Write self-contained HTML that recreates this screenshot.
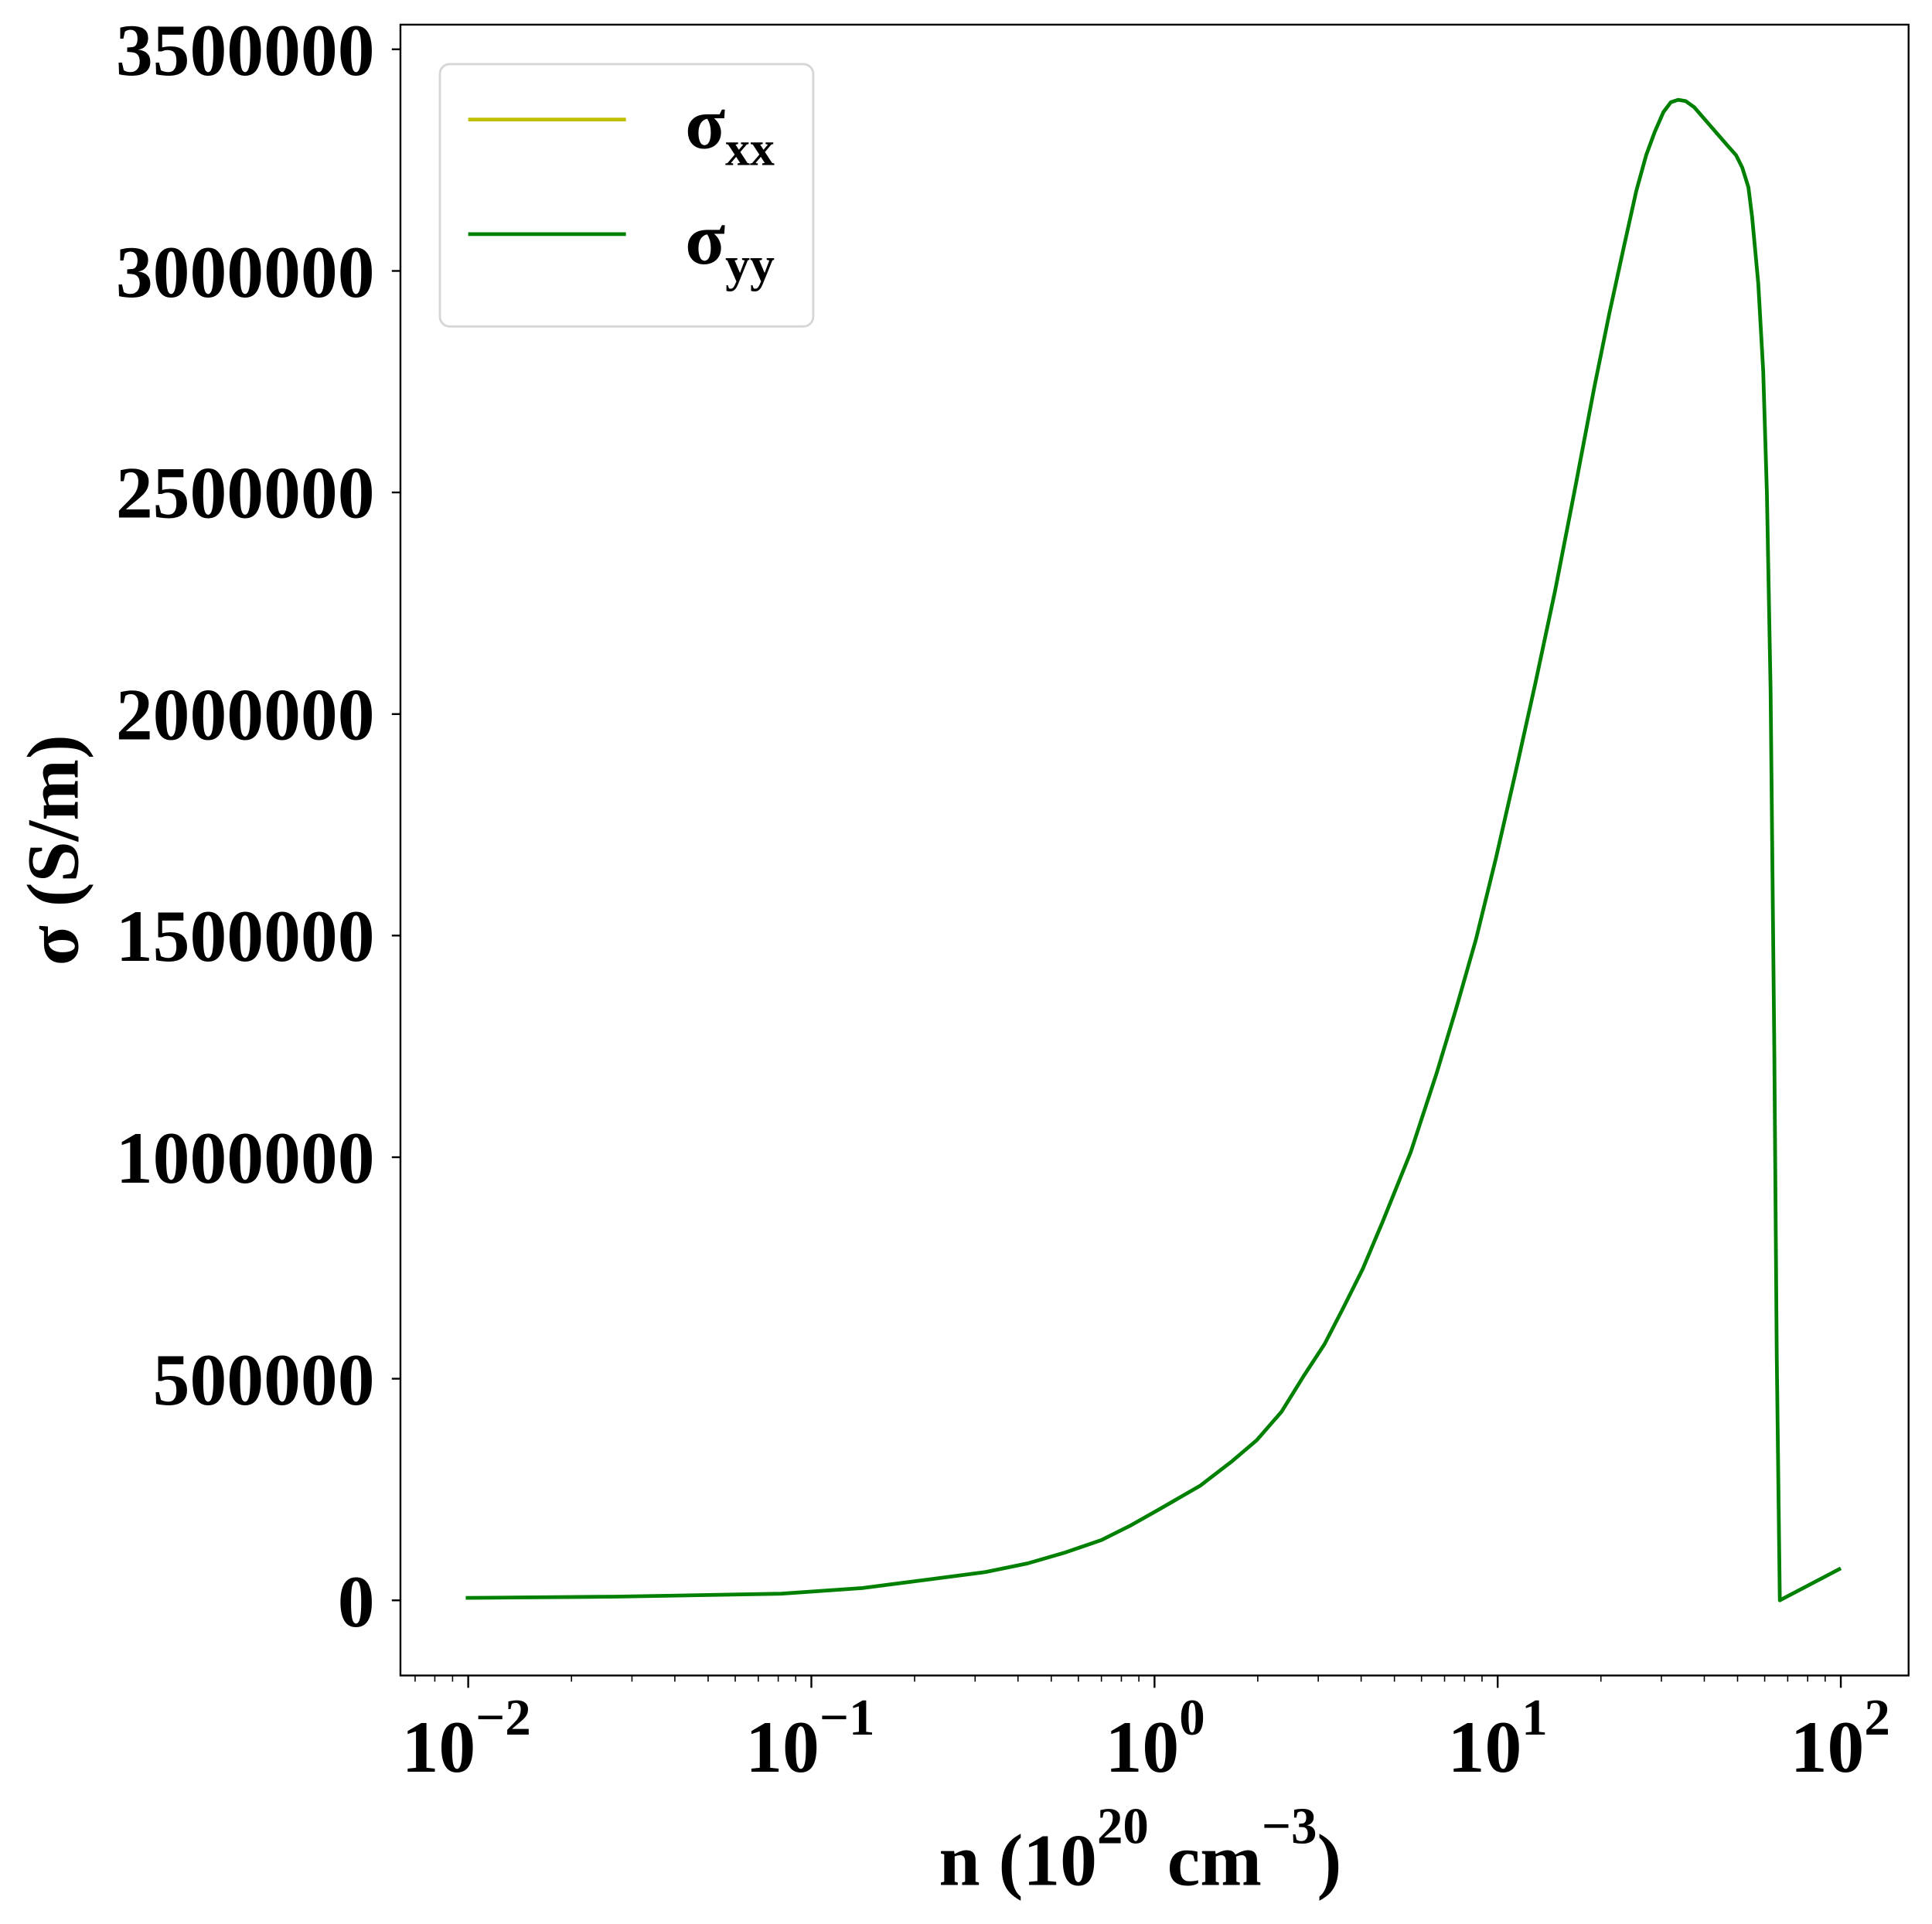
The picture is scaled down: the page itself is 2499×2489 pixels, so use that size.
<!DOCTYPE html>
<html><head><meta charset="utf-8"><style>
html,body{margin:0;padding:0;background:#fff;}
svg{display:block;}
</style></head><body>
<svg width="2499" height="2489" viewBox="0 0 1568 1561.7" xmlns="http://www.w3.org/2000/svg" font-family="'Liberation Serif', 'Times New Roman', Times, serif" font-weight="bold" style="font-family:'Liberation Serif','Times New Roman',Times,serif;font-weight:bold">
<rect x="0" y="0" width="1568" height="1562" fill="#fff"/>
<path d="M378,1297 L500,1296 L634,1293.6 L700,1289 L754,1282 L800,1276 L834,1269 L865,1260 L894,1250 L918,1238 L941,1225 L974,1206 L1000,1186 L1020,1169 L1040,1146 L1058,1117 L1075,1091 L1090,1062 L1106,1030 L1122,992 L1145,935 L1166,871 L1182,818 L1198,762 L1214,697 L1230,627 L1246,555 L1262,480 L1278,398 L1294,314 L1306,255 L1318,200 L1328,155 L1336,126 L1343,107 L1350,91 L1356,83 L1362,81 L1368,82 L1375,87 L1388,102 L1401,117 L1409,126 L1414,136 L1419,152 L1422,176 L1427,230 L1431,301 L1434,400 L1437,560 L1440,850 L1442,1100 L1444.5,1299 L1494,1273" fill="none" stroke="#008000" stroke-width="3" stroke-linejoin="round"/>
<rect x="325" y="20" width="1224" height="1340" fill="none" stroke="#000" stroke-width="1.5"/>
<g stroke="#000" stroke-width="1.5">
<line x1="318" y1="1299" x2="325" y2="1299"/>
<line x1="318" y1="1119.1" x2="325" y2="1119.1"/>
<line x1="318" y1="939.3" x2="325" y2="939.3"/>
<line x1="318" y1="759.4" x2="325" y2="759.4"/>
<line x1="318" y1="579.6" x2="325" y2="579.6"/>
<line x1="318" y1="399.7" x2="325" y2="399.7"/>
<line x1="318" y1="219.9" x2="325" y2="219.9"/>
<line x1="318" y1="40" x2="325" y2="40"/>
</g>
<g font-size="60" text-anchor="end">
<text x="304" y="1320">0</text>
<text x="304" y="1140">500000</text>
<text x="304" y="960">1000000</text>
<text x="304" y="780">1500000</text>
<text x="304" y="600">2000000</text>
<text x="304" y="420">2500000</text>
<text x="304" y="241">3000000</text>
<text x="304" y="61">3500000</text>
</g>
<g stroke="#000" stroke-width="1.5">
<line x1="380" y1="1360" x2="380" y2="1370"/>
<line x1="658.5" y1="1360" x2="658.5" y2="1370"/>
<line x1="937" y1="1360" x2="937" y2="1370"/>
<line x1="1215.5" y1="1360" x2="1215.5" y2="1370"/>
<line x1="1494" y1="1360" x2="1494" y2="1370"/>
</g>
<g stroke="#000" stroke-width="1">
<line x1="336.9" y1="1360" x2="336.9" y2="1365"/>
<line x1="352.9" y1="1360" x2="352.9" y2="1365"/>
<line x1="367.3" y1="1360" x2="367.3" y2="1365"/>
<line x1="463.8" y1="1360" x2="463.8" y2="1365"/><line x1="512.9" y1="1360" x2="512.9" y2="1365"/><line x1="547.7" y1="1360" x2="547.7" y2="1365"/><line x1="574.7" y1="1360" x2="574.7" y2="1365"/><line x1="596.7" y1="1360" x2="596.7" y2="1365"/><line x1="615.4" y1="1360" x2="615.4" y2="1365"/><line x1="631.6" y1="1360" x2="631.6" y2="1365"/><line x1="645.8" y1="1360" x2="645.8" y2="1365"/>
<line x1="742.3" y1="1360" x2="742.3" y2="1365"/><line x1="791.4" y1="1360" x2="791.4" y2="1365"/><line x1="826.2" y1="1360" x2="826.2" y2="1365"/><line x1="853.2" y1="1360" x2="853.2" y2="1365"/><line x1="875.2" y1="1360" x2="875.2" y2="1365"/><line x1="893.9" y1="1360" x2="893.9" y2="1365"/><line x1="910.1" y1="1360" x2="910.1" y2="1365"/><line x1="924.3" y1="1360" x2="924.3" y2="1365"/>
<line x1="1020.8" y1="1360" x2="1020.8" y2="1365"/><line x1="1069.9" y1="1360" x2="1069.9" y2="1365"/><line x1="1104.7" y1="1360" x2="1104.7" y2="1365"/><line x1="1131.7" y1="1360" x2="1131.7" y2="1365"/><line x1="1153.7" y1="1360" x2="1153.7" y2="1365"/><line x1="1172.4" y1="1360" x2="1172.4" y2="1365"/><line x1="1188.6" y1="1360" x2="1188.6" y2="1365"/><line x1="1202.8" y1="1360" x2="1202.8" y2="1365"/>
<line x1="1299.3" y1="1360" x2="1299.3" y2="1365"/><line x1="1348.4" y1="1360" x2="1348.4" y2="1365"/><line x1="1383.2" y1="1360" x2="1383.2" y2="1365"/><line x1="1410.2" y1="1360" x2="1410.2" y2="1365"/><line x1="1432.2" y1="1360" x2="1432.2" y2="1365"/><line x1="1450.9" y1="1360" x2="1450.9" y2="1365"/><line x1="1467.1" y1="1360" x2="1467.1" y2="1365"/><line x1="1481.3" y1="1360" x2="1481.3" y2="1365"/>
</g>
<g font-size="60">
<text x="326" y="1438">10<tspan font-size="42" dy="-30">−2</tspan></text>
<text x="605" y="1438">10<tspan font-size="42" dy="-30">−1</tspan></text>
<text x="897" y="1438">10<tspan font-size="42" dy="-30">0</tspan></text>
<text x="1175" y="1438">10<tspan font-size="42" dy="-30">1</tspan></text>
<text x="1453" y="1438">10<tspan font-size="42" dy="-30">2</tspan></text>
</g>
<text x="762" y="1530" font-size="60">n (10<tspan font-size="42" dy="-34">20</tspan><tspan dy="34"> cm</tspan><tspan font-size="42" dy="-34">−3</tspan><tspan dy="34">)</tspan></text>
<text transform="translate(63,690) rotate(-90)" font-size="60" text-anchor="middle">σ (S/m)</text>
<rect x="357" y="52" width="303" height="213" rx="8" ry="8" fill="#fff" fill-opacity="0.8" stroke="#d6d6d6" stroke-width="1.8"/>
<line x1="380" y1="97" x2="508" y2="97" stroke="#bfbf00" stroke-width="3"/>
<line x1="380" y1="190" x2="508" y2="190" stroke="#008000" stroke-width="3"/>
<text x="556" y="120" font-size="60">σ<tspan font-size="40" dy="14">xx</tspan></text>
<text x="556" y="214" font-size="60">σ<tspan font-size="40" dy="14">yy</tspan></text>
</svg>
</body></html>
